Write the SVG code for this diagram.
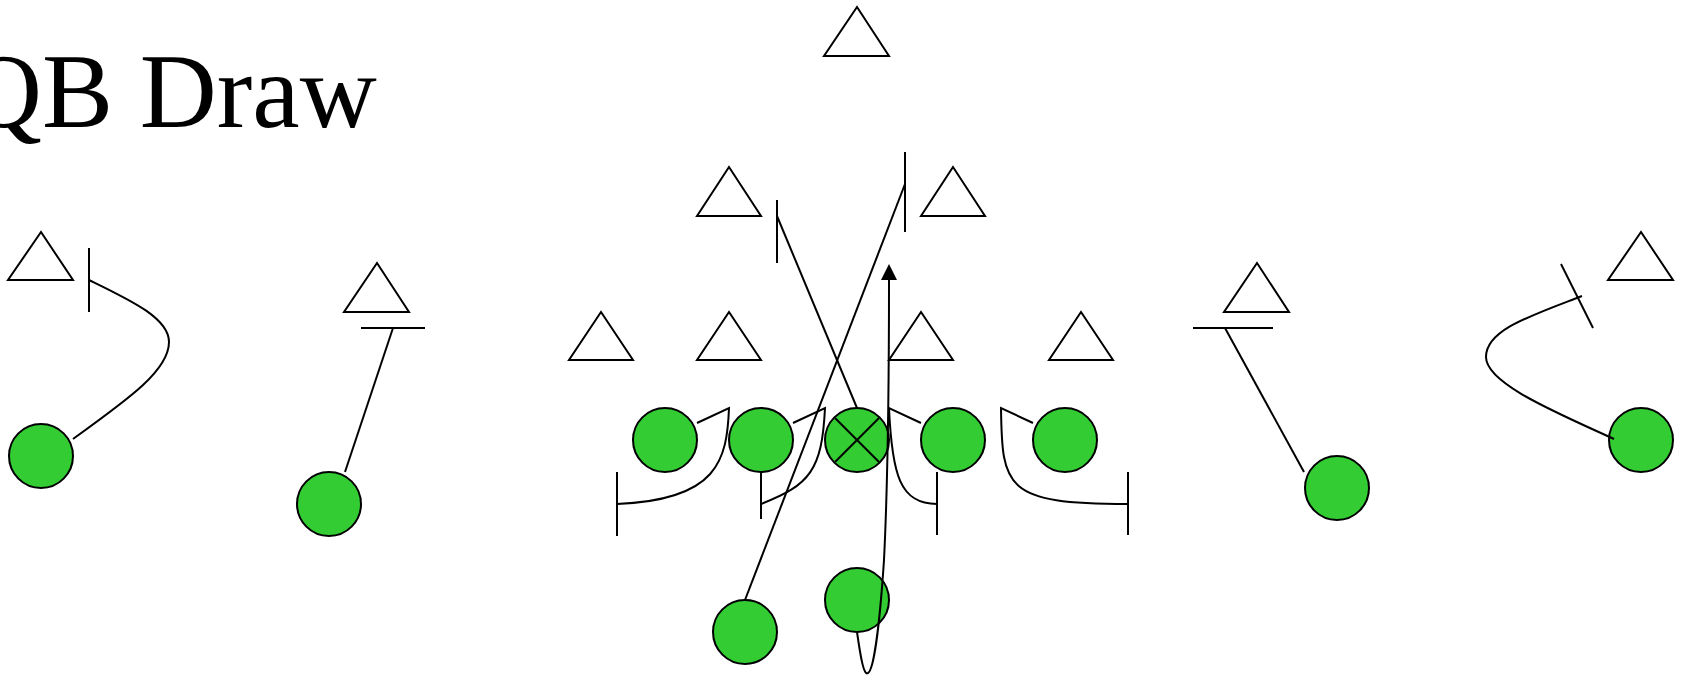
<svg xmlns="http://www.w3.org/2000/svg" width="1682" height="676" viewBox="0 0 1682 676">
  <defs>
    <style>
      .def { fill: #ffffff; stroke: #000000; stroke-width: 2; stroke-linejoin: miter; }
      .off { fill: #33cc33; stroke: #000000; stroke-width: 2; }
      .route { fill: none; stroke: #000000; stroke-width: 2; }
      .title { font-family: "Liberation Serif", "Times New Roman", serif; font-size: 106.67px; fill: #000000; }
    </style>
    <marker id="arrow" viewBox="0 0 16 16" refX="0" refY="8" markerWidth="16" markerHeight="16" markerUnits="userSpaceOnUse" orient="auto">
      <path d="M0,0 L16,8 L0,16 Z" fill="#000000"/>
    </marker>
  </defs>

  <rect width="1682" height="676" fill="#ffffff"/>

  <text class="title" x="-35" y="127">QB Draw</text>

  <!-- Defense -->
  <g id="def-safety"><polygon class="def" points="857,7 824,56 889,56"/></g>
  <g id="def-lb-left"><polygon class="def" points="729,167 697,216 761,216"/></g>
  <g id="def-lb-right"><polygon class="def" points="953,167 921,216 985,216"/></g>
  <g id="def-corner-left"><polygon class="def" points="41,232 8,280 73,280"/></g>
  <g id="def-corner-right"><polygon class="def" points="1641,232 1608,280 1673,280"/></g>
  <g id="def-ss-left"><polygon class="def" points="377,263 344,312 409,312"/></g>
  <g id="def-ss-right"><polygon class="def" points="1257,263 1224,312 1289,312"/></g>
  <g id="def-dl-1"><polygon class="def" points="601,312 569,360 633,360"/></g>
  <g id="def-dl-2"><polygon class="def" points="729,312 697,360 761,360"/></g>
  <g id="def-dl-3"><polygon class="def" points="921,312 889,360 953,360"/></g>
  <g id="def-dl-4"><polygon class="def" points="1081,312 1049,360 1113,360"/></g>

  <!-- Offense -->
  <g id="off-wr-left"><circle class="off" cx="41" cy="456" r="32"/></g>
  <g id="off-slot-left"><circle class="off" cx="329" cy="504" r="32"/></g>
  <g id="off-lt"><circle class="off" cx="665" cy="440" r="32"/></g>
  <g id="off-lg"><circle class="off" cx="761" cy="440" r="32"/></g>
  <g id="off-c">
    <circle class="off" cx="857" cy="440" r="32"/>
    <line class="route" x1="835" y1="418" x2="879" y2="462"/>
    <line class="route" x1="879" y1="418" x2="835" y2="462"/>
  </g>
  <g id="off-rg"><circle class="off" cx="953" cy="440" r="32"/></g>
  <g id="off-rt"><circle class="off" cx="1065" cy="440" r="32"/></g>
  <g id="off-slot-right"><circle class="off" cx="1337" cy="488" r="32"/></g>
  <g id="off-wr-right"><circle class="off" cx="1641" cy="440" r="32"/></g>
  <g id="off-rb"><circle class="off" cx="745" cy="632" r="32"/></g>
  <g id="off-qb"><circle class="off" cx="857" cy="600" r="32"/></g>

  <!-- Routes and blocks -->
  <g id="connectors" class="route">
    <!-- left receiver: stalk block on corner -->
    <path d="M73,439 C130,398 169,370 169,342 C169,318 130,300 89,280"/>
    <line x1="89" y1="248" x2="89" y2="312"/>
    <!-- left slot -->
    <line x1="345" y1="472" x2="393" y2="328"/>
    <line x1="361" y1="328" x2="425" y2="328"/>
    <!-- left tackle -->
    <path d="M697,423 L729,408 C727,460 718,500 617,504"/>
    <line x1="617" y1="472" x2="617" y2="536"/>
    <!-- left guard -->
    <path d="M793,423 L825,408 C822,470 810,485 761,504"/>
    <line x1="761" y1="472" x2="761" y2="519"/>
    <!-- center to backer -->
    <line x1="857" y1="408" x2="777" y2="216"/>
    <line x1="777" y1="200" x2="777" y2="263"/>
    <!-- center right -->
    <path d="M921,423 L889,408 C892,475 900,504 937,504"/>
    <line x1="937" y1="472" x2="937" y2="535"/>
    <!-- right tackle -->
    <path d="M1033,423 L1001,408 C1002,488 1005,504 1128,504"/>
    <line x1="1128" y1="472" x2="1128" y2="535"/>
    <!-- running back lead -->
    <line x1="745" y1="600" x2="905" y2="184"/>
    <line x1="905" y1="152" x2="905" y2="232"/>
    <!-- quarterback draw -->
    <path d="M857,632 C861,660 864,676 868,673 C874,670 880,620 884,560 C887,500 889,420 889,280" marker-end="url(#arrow)"/>
    <!-- right slot -->
    <line x1="1304" y1="472" x2="1225" y2="328"/>
    <line x1="1193" y1="328" x2="1273" y2="328"/>
    <!-- right receiver -->
    <path d="M1614,439 C1560,414 1486,384 1486,357 C1486,330 1530,316 1582,296"/>
    <line x1="1561" y1="264" x2="1593" y2="328"/>
  </g>
</svg>
